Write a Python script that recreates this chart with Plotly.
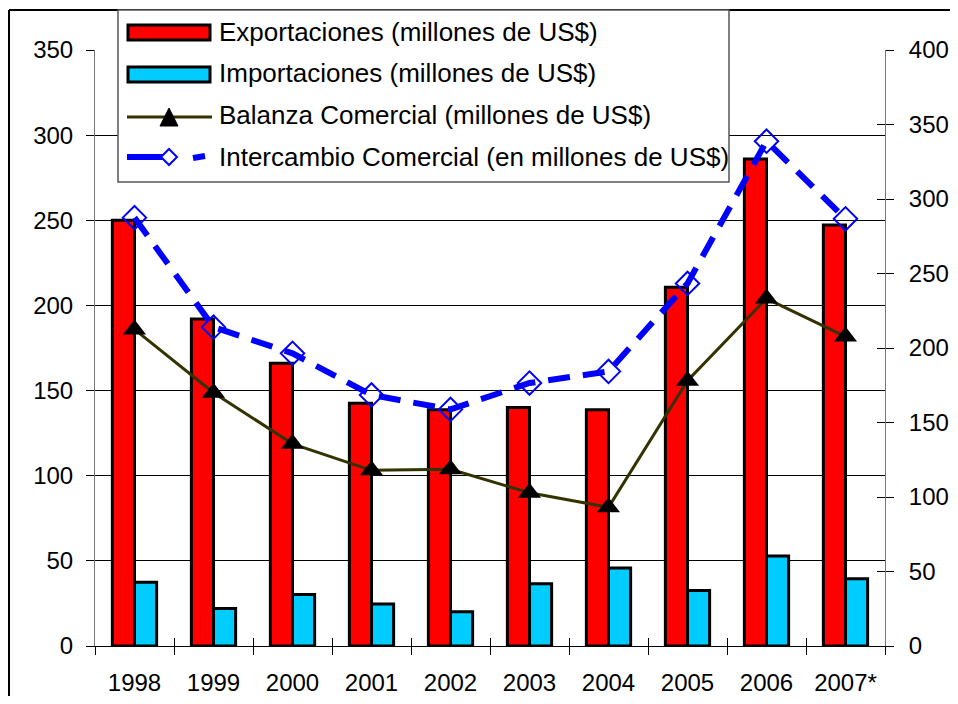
import plotly.graph_objects as go

YEARS = ["1998", "1999", "2000", "2001", "2002", "2003", "2004", "2005", "2006", "2007*"]
EXPORTS = [250, 192, 166, 142.5, 138.7, 140, 138.7, 210.7, 286, 247.2]
IMPORTS = [37.5, 22, 30.3, 24.6, 20.1, 36.6, 45.8, 32.6, 52.8, 39.5]
BALANCE = [212.5, 170, 135.7, 117.9, 118.6, 102.8, 93.1, 178.1, 233.2, 207.7]
EXCHANGE = [287.5, 214, 196.4, 168.5, 158.8, 176.5, 184.3, 243.3, 338.8, 286.7]

LEGEND_LABELS = [
    "Exportaciones (millones de US$)",
    "Importaciones (millones de US$)",
    "Balanza Comercial (millones de US$)",
    "Intercambio Comercial (en millones de US$)",
]

FONT = "Arial, Liberation Sans, sans-serif"
RED = "#FF0000"
CYAN = "#00CCFF"
BLUE = "#0000FF"
OLIVE = "#333300"

# the page body has an 8px margin: keep the figure inside the window so nothing scrolls
PAGE_OFFSET = 8
W, H = 958 - 2 * PAGE_OFFSET, 704 - 2 * PAGE_OFFSET
# plot area in screen pixels
L, R, T, B = 95, 885, 50, 646
X_RANGE = [-0.5, len(YEARS) - 0.5]


def px(x):
    return (x - L) / (R - L)


def py(y):
    return (B - y) / (B - T)


fig = go.Figure()
fig.add_trace(go.Bar(x=YEARS, y=EXPORTS, name=LEGEND_LABELS[0], marker={"color": RED, "line": {"color": "black", "width": 3}}))
fig.add_trace(go.Bar(x=YEARS, y=IMPORTS, name=LEGEND_LABELS[1], marker={"color": CYAN, "line": {"color": "black", "width": 3}}))
fig.add_trace(
    go.Scatter(
        x=YEARS, y=BALANCE, yaxis="y2", mode="lines+markers", name=LEGEND_LABELS[2],
        line={"color": OLIVE, "width": 3},
        marker={"symbol": "triangle-up", "size": 20, "color": "black"},
    )
)
fig.add_trace(
    go.Scatter(
        x=YEARS, y=EXCHANGE, yaxis="y2", mode="lines+markers", name=LEGEND_LABELS[3],
        line={"color": BLUE, "width": 6, "dash": "22px,13px"},
        marker={"symbol": "diamond-open", "size": 18, "color": BLUE, "line": {"width": 2}},
    )
)
# helper trace so the overlay axes (inside ticks -> cross ticks) get drawn
fig.add_trace(
    go.Scatter(x=YEARS, y=BALANCE, xaxis="x2", yaxis="y3", mode="markers",
               marker={"opacity": 0}, hoverinfo="skip", showlegend=False)
)

shapes = [
    # outer frame (only left and top edges are inside the picture)
    dict(type="line", xref="paper", yref="paper", x0=px(9), y0=py(10), x1=px(9), y1=py(720),
         line={"color": "black", "width": 2}, layer="above"),
    dict(type="line", xref="paper", yref="paper", x0=px(9), y0=py(10), x1=px(975), y1=py(10),
         line={"color": "black", "width": 2}, layer="above"),
    # legend box
    dict(type="rect", xref="paper", yref="paper", x0=px(118), y0=py(10), x1=px(729), y1=py(182),
         line={"color": "#555555", "width": 1.5}, fillcolor="white", layer="above"),
    dict(type="rect", xref="paper", yref="paper", x0=px(128), y0=py(25), x1=px(210), y1=py(40),
         line={"color": "black", "width": 3}, fillcolor=RED, layer="above"),
    dict(type="rect", xref="paper", yref="paper", x0=px(128), y0=py(67), x1=px(210), y1=py(82),
         line={"color": "black", "width": 3}, fillcolor=CYAN, layer="above"),
    dict(type="line", xref="paper", yref="paper", x0=px(127), y0=py(117), x1=px(212), y1=py(117),
         line={"color": OLIVE, "width": 3}, layer="above"),
    dict(type="path", xref="paper", yref="paper",
         path=f"M{px(160)},{py(126)} L{px(178)},{py(126)} L{px(169)},{py(108)} Z",
         line={"color": "black", "width": 1}, fillcolor="black", layer="above"),
    dict(type="line", xref="paper", yref="paper", x0=px(127), y0=py(157), x1=px(163), y1=py(157),
         line={"color": BLUE, "width": 6}, layer="above"),
    dict(type="path", xref="paper", yref="paper",
         path=f"M{px(161)},{py(157)} L{px(169)},{py(149)} L{px(177)},{py(157)} L{px(169)},{py(165)} Z",
         line={"color": BLUE, "width": 2}, fillcolor="white", layer="above"),
    dict(type="line", xref="paper", yref="paper", x0=px(193), y0=py(158), x1=px(205), y1=py(156),
         line={"color": BLUE, "width": 6}, layer="above"),
]

annotations = []
for label, ypix in zip(LEGEND_LABELS, [32, 73, 115, 157]):
    annotations.append(
        dict(text=label, x=px(217), y=py(ypix), xref="paper", yref="paper", xanchor="left", yanchor="middle",
             showarrow=False, font={"family": FONT, "size": 26, "color": "black"})
    )

tick_font = {"family": FONT, "size": 24, "color": "black"}
fig.update_layout(
    width=W,
    height=H,
    margin={
        "l": L - PAGE_OFFSET, "r": W - (R - PAGE_OFFSET),
        "t": T - PAGE_OFFSET, "b": H - (B - PAGE_OFFSET), "pad": 0,
    },
    paper_bgcolor="white",
    plot_bgcolor="white",
    showlegend=False,
    barmode="group",
    bargap=0.44,
    bargroupgap=0,
    font={"family": FONT, "color": "black"},
    xaxis={
        "type": "category", "categoryorder": "array", "categoryarray": YEARS, "range": X_RANGE,
        "tickson": "boundaries", "ticks": "outside", "ticklen": 8, "tickcolor": "black",
        "tickfont": tick_font, "ticklabelstandoff": 15, "automargin": False,
        "showline": True, "linecolor": "black", "linewidth": 1, "showgrid": False,
    },
    xaxis2={
        "type": "category", "categoryorder": "array", "categoryarray": YEARS, "range": X_RANGE,
        "overlaying": "x", "tickson": "boundaries", "ticks": "inside", "ticklen": 8, "tickcolor": "black",
        "showticklabels": False, "showgrid": False, "anchor": "y", "automargin": False,
    },
    yaxis={
        "range": [0, 350], "dtick": 50, "ticks": "outside", "ticklen": 8, "tickcolor": "black",
        "tickfont": tick_font, "ticklabelstandoff": 8, "automargin": False,
        "showgrid": True, "gridcolor": "black", "gridwidth": 1, "zeroline": False,
        "showline": True, "linecolor": "#777777", "linewidth": 1,
    },
    yaxis2={
        "range": [0, 400], "dtick": 50, "overlaying": "y", "side": "right",
        "ticks": "outside", "ticklen": 8, "tickcolor": "black",
        "tickfont": tick_font, "ticklabelstandoff": 10, "automargin": False,
        "showgrid": False, "zeroline": False, "showline": True, "linecolor": "#777777", "linewidth": 1,
    },
    yaxis3={
        "range": [0, 400], "dtick": 50, "overlaying": "y", "side": "right", "anchor": "x",
        "ticks": "inside", "ticklen": 8, "tickcolor": "black", "showticklabels": False,
        "showgrid": False, "zeroline": False, "showline": False, "automargin": False,
    },
    shapes=shapes,
    annotations=annotations,
)

fig.write_html("out.html")
